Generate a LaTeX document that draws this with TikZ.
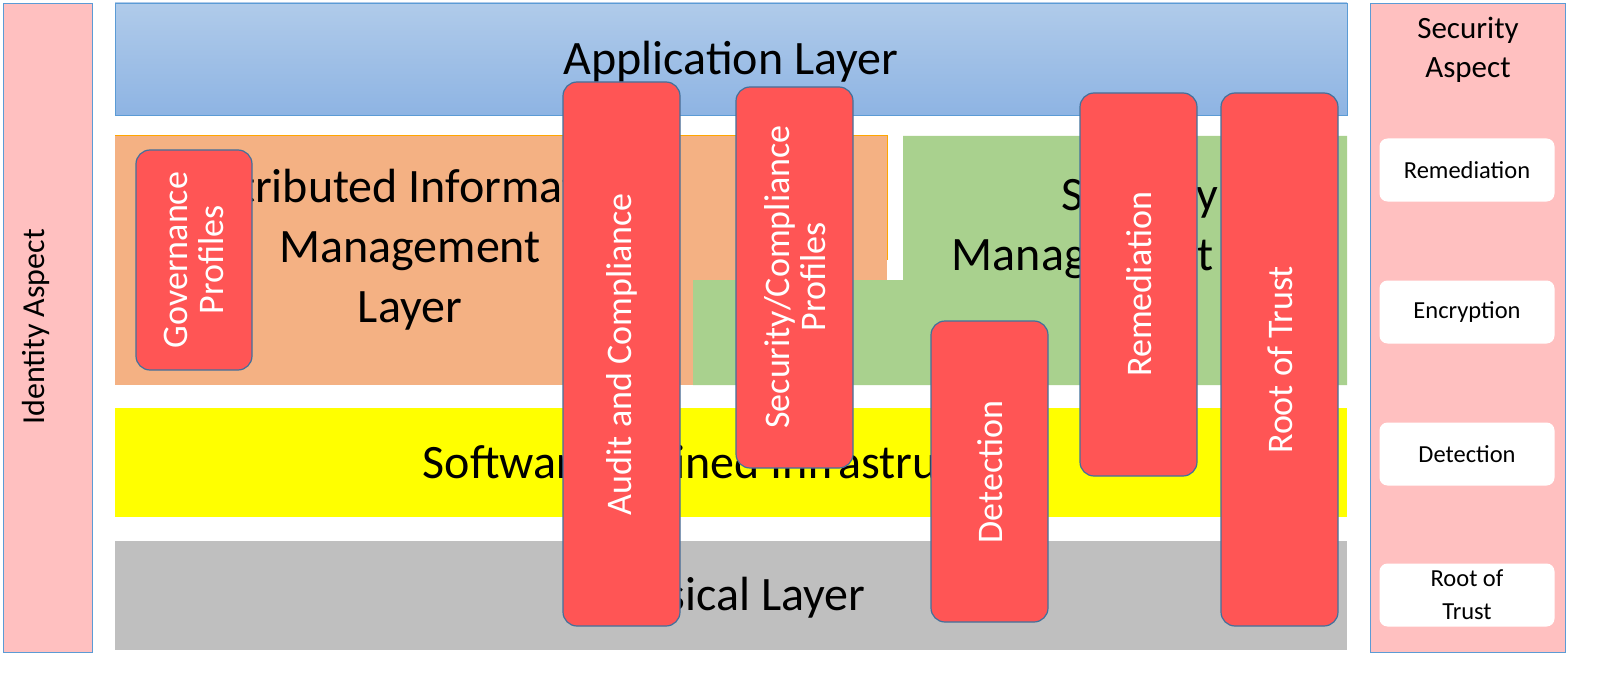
\documentclass[tikz,border=0pt]{standalone}
\usepackage{fontspec}
\setmainfont{Carlito}
\definecolor{pinkA}{HTML}{FFC0C0}
\definecolor{blueB}{HTML}{5B9BD5}
\definecolor{redB}{HTML}{FF5555}
\definecolor{edgeB}{HTML}{41719C}
\definecolor{orangeL}{HTML}{F4B183}
\definecolor{greenL}{HTML}{A9D18E}
\definecolor{grayL}{HTML}{BFBFBF}
\definecolor{yelL}{HTML}{FFFF00}
\definecolor{appTop}{HTML}{B0CBEA}
\definecolor{appBot}{HTML}{8EB4E3}
\begin{document}
\begin{tikzpicture}[x=1pt,y=-1pt,
  aspect/.style={fill=pinkA,draw=blueB,line width=0.8pt},
  layertxt/.style={font=\fontsize{48}{60}\selectfont,align=center,text=black},
  redbox/.style={fill=redB,draw=edgeB,line width=1.2pt,rounded corners=14pt},
  redtxt/.style={font=\fontsize{36}{36}\selectfont,text=white,align=center,rotate=90},
  whitebox/.style={fill=white,rounded corners=8pt,font=\fontsize{24.5}{33}\selectfont,align=center}]
\fill[white] (0,0) rectangle (1617,674);
% aspects
\draw[aspect] (3,3) rectangle (92,652);
\node[rotate=90,font=\fontsize{32}{36}\selectfont] (ida) at (36,327) {Identity Aspect};
\draw[aspect] (1370,3) rectangle (1565,652);
\node[font=\fontsize{31}{39}\selectfont,align=center] (seca) at (1468,50) {Security\\Aspect};
\node[whitebox,minimum width=175pt,minimum height=63pt] (w1) at (1467,170) {Remediation};
\node[whitebox,minimum width=175pt,minimum height=63pt] (w2) at (1467,312) {Encryption};
\node[whitebox,minimum width=175pt,minimum height=63pt] (w3) at (1467,454) {Detection};
\node[whitebox,minimum width=175pt,minimum height=63pt] (w4) at (1467,595) {Root of\\Trust};
% layers
\shade[top color=appTop,bottom color=appBot,draw=blueB,line width=0.8pt] (115,3) rectangle (1347,115);
\node[layertxt] (app) at (731,62) {Application Layer};
\fill[orangeL] (115,136) rectangle (887,385);
\draw[draw=orange!70!yellow,line width=1pt] (115,136) -- (887,136) -- (887,260);
\node[layertxt] (dim) at (410,250) {Distributed Information\\Management\\Layer};
\fill[greenL] (903,136) -- (1347,136) -- (1347,385) -- (693,385) -- (693,280) -- (903,280) -- cycle;
\node[layertxt] (sml) at (1140,228) {Security\\Management Layer};
\fill[yelL] (115,408) rectangle (1347,517);
\node[layertxt] (sdi) at (731,462) {Software Defined Infrastructure};
\fill[grayL] (115,541) rectangle (1347,650);
\node[layertxt] (phy) at (731,598) {Physical Layer};
% red boxes
\draw[redbox] (136,150) rectangle (252,370);
\node[redtxt] (gov) at (194,260) {Governance\\Profiles};
\draw[redbox] (563,82) rectangle (680,626);
\node[redtxt] (aud) at (622,354) {Audit and Compliance};
\draw[redbox] (736,87) rectangle (853,468);
\node[redtxt] (scp) at (795,277) {Security/Compliance\\Profiles};
\draw[redbox] (931,321) rectangle (1048,622);
\node[redtxt] (det) at (990,472) {Detection};
\draw[redbox] (1080,93) rectangle (1197,476);
\node[redtxt] (rem) at (1139,284) {Remediation};
\draw[redbox] (1221,93) rectangle (1338,626);
\node[redtxt] (rot) at (1280,360) {Root of Trust};
\pgfresetboundingbox
\path[use as bounding box] (0,0) rectangle (1617,674);
\end{tikzpicture}
\end{document}
